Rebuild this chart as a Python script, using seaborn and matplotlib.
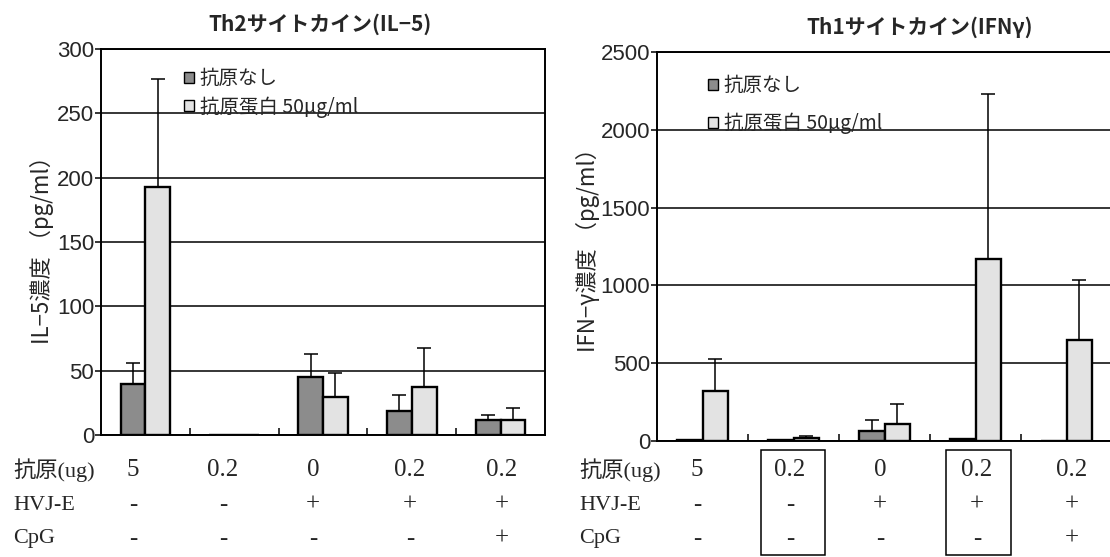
import numpy as np
import pandas as pd
import matplotlib
matplotlib.use("Agg")
import matplotlib.pyplot as plt
import seaborn as sns
from matplotlib.patches import Patch, Rectangle
from matplotlib import font_manager

# ---- data -------------------------------------------------------------
groups = ["g1", "g2", "g3", "g4", "g5"]
series = ["抗原なし", "抗原蛋白 50μg/ml"]

# IL-5 (pg/ml): mean and upper SD
il5_none = [40, 0, 45, 19, 11.5]
il5_none_err = [16, 0, 18, 12, 4]
il5_prot = [193, 0, 29.5, 37.5, 11.5]
il5_prot_err = [84, 0, 18.5, 30.5, 9.5]

# IFN-gamma (pg/ml): mean and upper SD
ifn_none = [5, 4, 65, 15, 3]
ifn_none_err = [0, 0, 70, 0, 0]
ifn_prot = [322, 18, 110, 1170, 650]
ifn_prot_err = [208, 14, 125, 1060, 385]

# treatment table under each panel
antigen_ug = ["5", "0.2", "0", "0.2", "0.2"]
hvje = ["-", "-", "+", "+", "+"]
cpg = ["-", "-", "-", "-", "+"]
row_labels = ["抗原(ug)", "HVJ-E", "CpG"]

# ---- style ------------------------------------------------------------
sns.set_theme(style="white")
names = {f.name for f in font_manager.fontManager.ttflist}
NUM_FONT = "Liberation Sans Narrow" if "Liberation Sans Narrow" in names else "Liberation Sans"
CJK = "Noto Sans CJK JP"
plt.rcParams["font.family"] = [CJK, "DejaVu Sans"]

DARK = "#8c8c8c"
LIGHT = "#e3e3e3"

W, H = 1110, 557
fig = plt.figure(figsize=(W / 100, H / 100), dpi=100)


def fx(px):
    return px / W


def fy(py):
    return 1 - py / H


def panel(rect, none, none_err, prot, prot_err, ymax, step, leg_anchor, leg_spacing):
    ax = fig.add_axes(rect)
    df = pd.DataFrame({
        "group": groups * 2,
        "series": [series[0]] * len(groups) + [series[1]] * len(groups),
        "value": list(none) + list(prot),
    })
    sns.barplot(data=df, x="group", y="value", hue="series", order=groups,
                hue_order=series, palette=[DARK, LIGHT], width=0.56, gap=0,
                errorbar=None, edgecolor="black", linewidth=1.7, saturation=1,
                legend=False, ax=ax, zorder=3)
    for cont, errs in zip(ax.containers, [none_err, prot_err]):
        xs = np.array([b.get_x() + b.get_width() / 2 for b in cont])
        hs = np.array([b.get_height() for b in cont])
        errs = np.asarray(errs, dtype=float)
        m = errs > 0
        ax.errorbar(xs[m], hs[m], yerr=[np.zeros(m.sum()), errs[m]], fmt="none",
                    ecolor="black", elinewidth=1.1, capsize=5, capthick=1.1, zorder=2)
    ax.set_xlim(-0.5, len(groups) - 0.5)
    ax.set_ylim(0, ymax)
    ax.set_yticks(np.arange(0, ymax + 1, step))
    ax.yaxis.grid(True, color="black", linewidth=1.1)
    ax.set_axisbelow(True)
    ax.set_xticks([])
    ax.set_xticks(np.arange(0.5, len(groups) - 0.5, 1), minor=True)
    ax.tick_params(axis="x", which="minor", direction="in", length=5, width=1.1,
                   color="black", bottom=True)
    ax.tick_params(axis="y", direction="out", length=4, width=1.1, color="black",
                   left=True, labelsize=16, pad=1)
    for lab in ax.get_yticklabels():
        lab.set_fontfamily(NUM_FONT)
    ax.set_xlabel("")
    ax.set_ylabel("")
    for s in ax.spines.values():
        s.set_color("black")
        s.set_linewidth(1.4)
    handles = [Patch(facecolor=DARK, edgecolor="black", linewidth=1),
               Patch(facecolor=LIGHT, edgecolor="black", linewidth=1)]
    ax.legend(handles, series, loc="upper left", bbox_to_anchor=leg_anchor,
              frameon=False, handlelength=0.5, handleheight=0.5,
              handletextpad=0.3, labelspacing=leg_spacing, borderaxespad=0,
              prop={"family": CJK, "size": 14})
    return ax


# left panel: IL-5
ax1 = panel([fx(101), fy(435), fx(545 - 101), (435 - 49) / H],
            il5_none, il5_none_err, il5_prot, il5_prot_err, 300, 50,
            (0.17, 0.97), 0.35)
# right panel: IFN-gamma
ax2 = panel([fx(657), fy(441), fx(1112 - 657), (441 - 52) / H],
            ifn_none, ifn_none_err, ifn_prot, ifn_prot_err, 2500, 500,
            (0.095, 0.96), 0.85)

# titles
fig.text(fx(320), fy(24), "Th2サイトカイン(IL−5)", ha="center", va="center",
         fontsize=15, fontweight="bold")
fig.text(fx(920), fy(27), "Th1サイトカイン(IFNγ)", ha="center", va="center",
         fontsize=15, fontweight="bold")

# y-axis titles
fig.text(fx(42), fy(245), "IL−5濃度 （pg/ml）", rotation=90, ha="center",
         va="center", fontsize=16)
fig.text(fx(588), fy(245), "IFN−γ濃度 （pg/ml）", rotation=90, ha="center",
         va="center", fontsize=16)

# treatment tables
SERIF = ["Liberation Serif", CJK]
row_y = [470, 505, 539]
left_cols = [133, 223, 313, 410, 502]
right_cols = [697, 790, 880, 977, 1072]
for x0, cols in [(13, left_cols), (579, right_cols)]:
    for ry, lab, vals in zip(row_y, row_labels, [antigen_ug, hvje, cpg]):
        fig.text(fx(x0), fy(ry), lab, ha="left", va="center",
                 fontsize=16, family=SERIF)
        for cx, v in zip(cols, vals):
            fig.text(fx(cx), fy(ry), v, ha="center", va="center",
                     fontsize=18, family=SERIF)

# boxes highlighting two conditions in the right table
for x_left, x_right in [(761, 825), (946, 1011)]:
    fig.add_artist(Rectangle((fx(x_left), fy(555)), fx(x_right - x_left),
                             (555 - 450) / H, transform=fig.transFigure,
                             fill=False, edgecolor="black", linewidth=1.1))

fig.savefig("out.png", dpi=100)
